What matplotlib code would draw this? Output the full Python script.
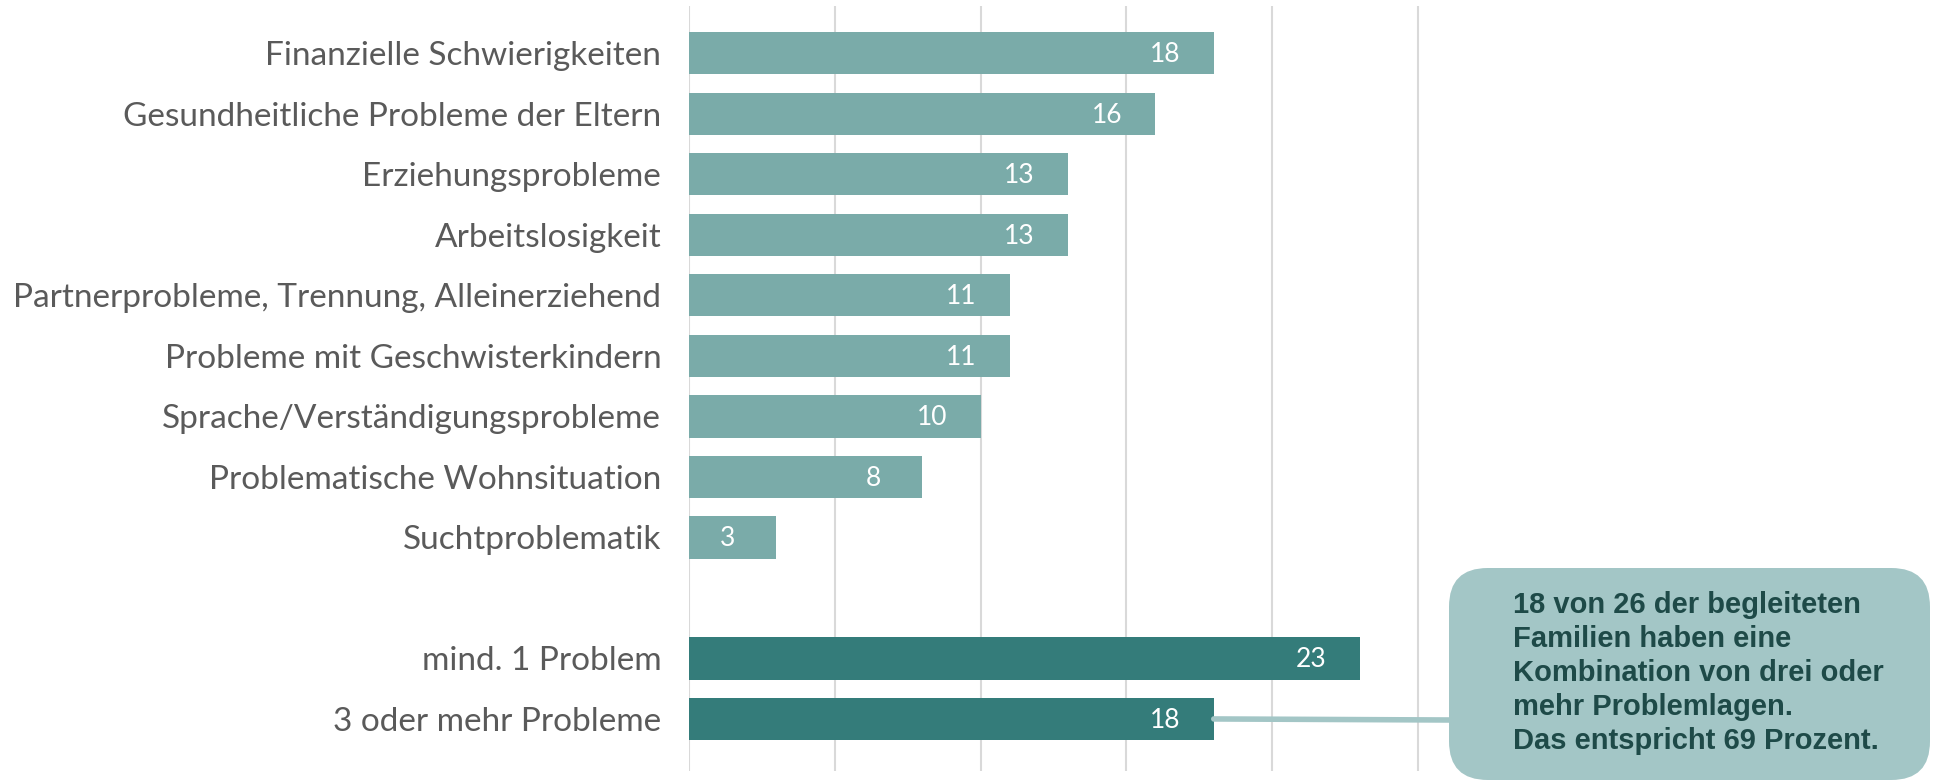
import matplotlib.pyplot as plt
from matplotlib.patches import FancyBboxPatch, ConnectionPatch

# --- Daten ---
LABELS = [
    "Finanzielle Schwierigkeiten",
    "Gesundheitliche Probleme der Eltern",
    "Erziehungsprobleme",
    "Arbeitslosigkeit",
    "Partnerprobleme, Trennung, Alleinerziehend",
    "Probleme mit Geschwisterkindern",
    "Sprache/Verständigungsprobleme",
    "Problematische Wohnsituation",
    "Suchtproblematik",
]
VALUES = [18, 16, 13, 13, 11, 11, 10, 8, 3]

SUM_LABELS = ["mind. 1 Problem", "3 oder mehr Probleme"]
SUM_VALUES = [23, 18]

BOX_TEXT = ("18 von 26 der begleiteten\nFamilien haben eine\n"
            "Kombination von drei oder\nmehr Problemlagen.\n"
            "Das entspricht 69 Prozent.")

# --- Farben ---
LIGHT = "#7AABA9"
DARK = "#347C7A"
BOX = "#A3C6C6"
GRID = "#D9D9D9"
LABEL_COLOR = "#5A5A5A"

W, H = 1935, 782
fig = plt.figure(figsize=(W / 100, H / 100), dpi=100)
ax = fig.add_axes([689 / W, 1 - 771 / H, (1447 - 689) / W, (771 - 6) / H])

pos_main = list(range(len(VALUES)))
pos_sum = [len(VALUES) + 1, len(VALUES) + 2]

ax.barh(pos_main, VALUES, height=0.7, color=LIGHT, zorder=2)
ax.barh(pos_sum, SUM_VALUES, height=0.7, color=DARK, zorder=2)

# Werte in den Balken
for p, v in zip(pos_main + pos_sum, VALUES + SUM_VALUES):
    ax.annotate(str(v), (v, p), xytext=(-35, -1), textcoords="offset points",
                ha="center", va="center", color="white", fontsize=19,
                family="Lato", zorder=3)

ax.set_yticks(pos_main + pos_sum)
ax.set_yticklabels(LABELS + SUM_LABELS, fontsize=24, color=LABEL_COLOR,
                   family="Lato")
ax.tick_params(axis="y", length=0, pad=20)
ax.tick_params(axis="x", length=0, labelbottom=False)

ax.set_xlim(0, 26)
ax.set_ylim(len(VALUES) + 2.86, -0.78)
ax.set_xticks([0, 5, 10, 15, 20, 25])
ax.grid(axis="x", color=GRID, linewidth=1.5, zorder=0)
for s in ax.spines.values():
    s.set_visible(False)

# --- Hinweisbox ---
bx0, by0, bw, bh = 1449 / W, 2 / H, (1930 - 1449) / W, (780 - 568) / H
box = FancyBboxPatch((bx0, by0), bw, bh,
                     boxstyle="round,pad=0,rounding_size=0.02",
                     transform=fig.transFigure, facecolor=BOX,
                     edgecolor="none", mutation_aspect=W / H, zorder=5)
fig.patches.append(box)

con = ConnectionPatch(xyA=(SUM_VALUES[1], pos_sum[1]), coordsA=ax.transData,
                      xyB=(bx0, 1 - 720 / H), coordsB=fig.transFigure,
                      color=BOX, linewidth=4, zorder=4)
fig.add_artist(con)

fig.text(1513 / W, 1 - 591 / H, BOX_TEXT, ha="left", va="top",
         fontsize=21, fontweight="bold", color="#1E4A48",
         family="Liberation Sans", linespacing=1.27, zorder=6)

plt.savefig("out.png", dpi=100)
